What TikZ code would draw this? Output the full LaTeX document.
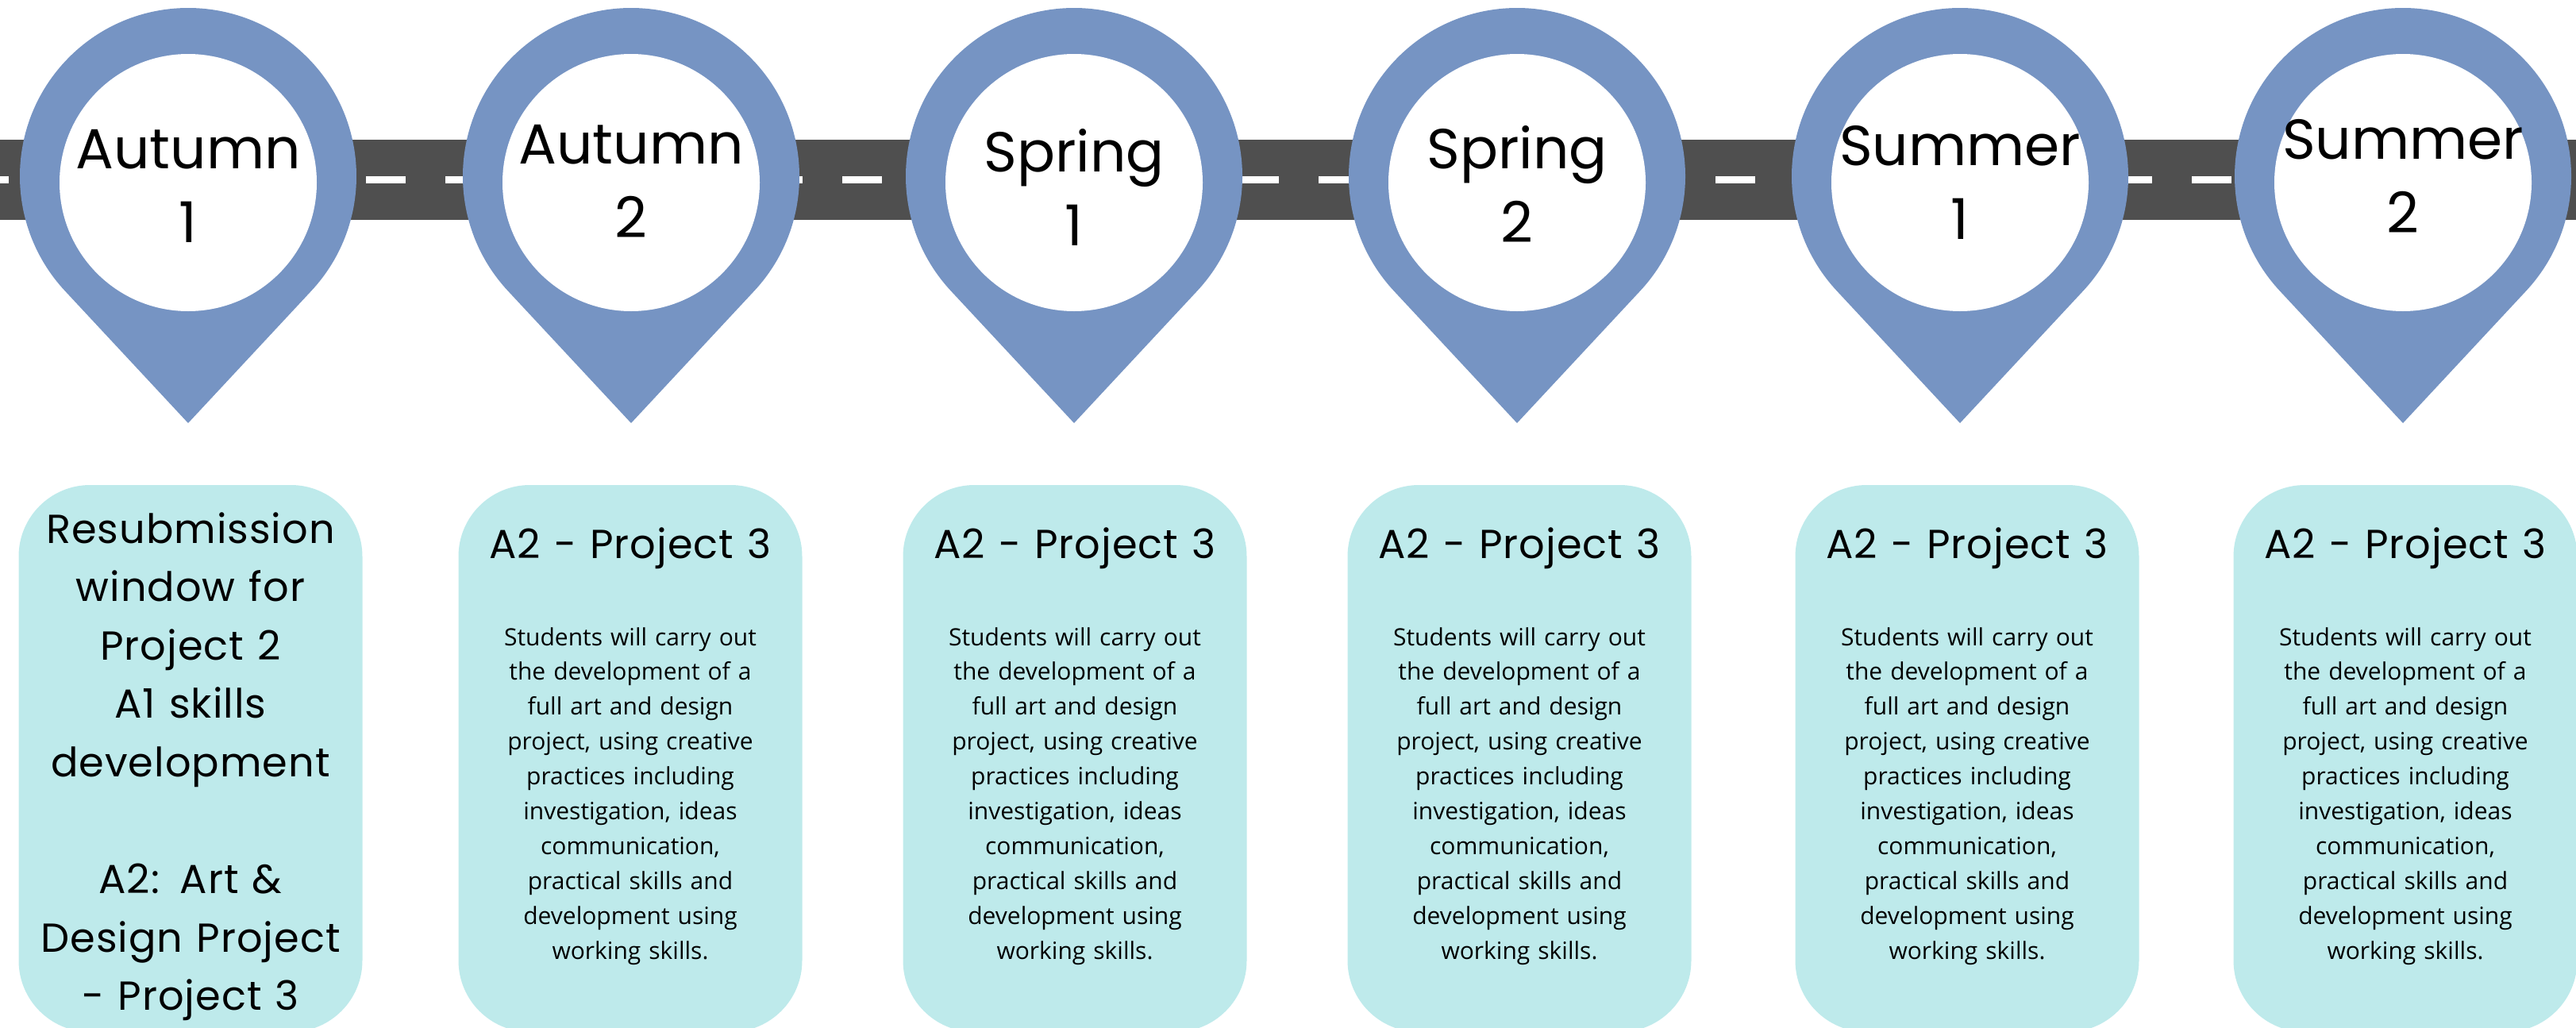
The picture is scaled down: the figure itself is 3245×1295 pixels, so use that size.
\documentclass[tikz,border=0pt]{standalone}
\usepackage{fontspec}
\setmainfont{Open Sans}
\newfontfamily\headfont{Poppins}
\newfontfamily\headfontwide[LetterSpace=2]{Poppins}
\newfontfamily\bodyfont{Open Sans}
\definecolor{pinblue}{HTML}{7694C3}
\definecolor{termcyan}{HTML}{BEEAEB}
\definecolor{roadgrey}{HTML}{4F4F4F}
\tikzstyle{road}=[fill=roadgrey]
\tikzstyle{lane}=[draw=white, line width=2.25pt, dash pattern=on 12.5pt off 12.5pt]
\tikzstyle{pin}=[fill=pinblue]
\tikzstyle{pin face}=[circle, fill=white, minimum size=81pt, inner sep=0pt]
\tikzstyle{pin label}=[anchor=base, text width=80pt, align=center, font=\headfont\fontsize{17.75pt}{23.25pt}\selectfont]
\tikzstyle{term box}=[fill=termcyan, rounded corners=22.5pt, minimum width=108.25pt, minimum height=172.25pt, inner sep=0pt]
\tikzstyle{term head}=[anchor=base, text width=106pt, align=center, font=\headfontwide\fontsize{12.75pt}{18.4pt}\selectfont]
\tikzstyle{term body}=[anchor=base, text width=106pt, align=center, font=\bodyfont\fontsize{7.5pt}{10.98pt}\selectfont]

\begin{document}
\begin{tikzpicture}[x=0.25pt, y=0.25pt]
      \useasboundingbox (0,0) rectangle (3245,-1295);

      % road with lane markings
      \fill[road] (0,-176) rectangle (3245,-277);
      \draw[lane] (-39,-226.5) -- (3245,-226.5);

      % terms as map pins
      \foreach \x/\season/\n/\b [count=\i] in {237/Autumn/1/212, 795/Autumn/2/206,
          1353/Spring/1/216, 1911/Spring/2/212, 2469/Summer/1/208, 3027/Summer/2/200} {
        \fill[pin] (\x,-222) ++(-43:212) arc[start angle=-43, end angle=223, radius=212]
          -- (\x,-533) -- cycle;
        \node[pin face] (p\i) at (\x,-230) {};
        \node[pin label] (l\i) at (\x,-\b) {\season\\\n};
      }

      % what happens in each term
      \node[term box] (b1) at (240,-955.5) {};
      \node[term head] (t1) at (240,-684) {Resubmission\\window for\\Project 2\\A1 skills\\development\\[18.4pt]A2: Art \&\\Design Project\\- Project 3};
      \foreach \x [count=\i from 2] in {794, 1354, 1914, 2478, 3030} {
        \node[term box] (b\i) at (\x,-955.5) {};
        \node[term head] (t\i) at (\x,-703) {A2 - Project 3};
        \node[term body] (d\i) at (\x,-813) {Students will carry out\\the development of a\\full art and design\\project, using creative\\practices including\\investigation, ideas\\communication,\\practical skills and\\development using\\working skills.};
      }
    \end{tikzpicture}
\end{document}
